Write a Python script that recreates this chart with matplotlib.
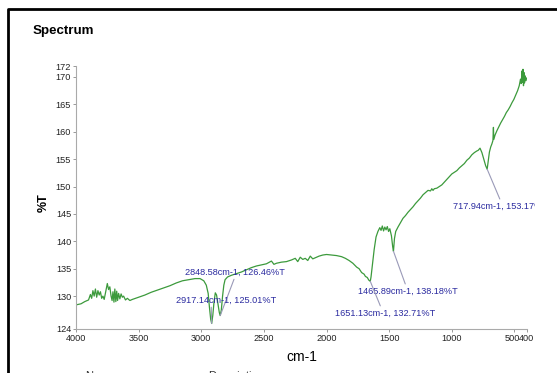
import matplotlib.pyplot as plt
import matplotlib.lines as mlines
from matplotlib.transforms import Bbox, TransformedBbox, ScaledTranslation
import numpy as np

# spectrum trace (wavenumber cm-1, %T)
wavenumber = [4000, 3960, 3930, 3900, 3885, 3875, 3865, 3855, 3845, 3835, 3825, 3815,
              3805, 3795, 3785, 3775, 3765, 3750, 3740, 3730, 3720, 3712, 3705, 3697,
              3690, 3682, 3675, 3668, 3660, 3650, 3640, 3630, 3620, 3605, 3590, 3570,
              3550, 3500, 3450, 3400, 3350, 3300, 3250, 3200, 3150, 3100, 3050, 3010,
              2980, 2960, 2945, 2935, 2925, 2917, 2908, 2898, 2888, 2878, 2866, 2856,
              2849, 2840, 2830, 2820, 2810, 2790, 2760, 2720, 2680, 2640, 2600, 2560,
              2520, 2480, 2440, 2420, 2400, 2360, 2320, 2280, 2250, 2230, 2210, 2190,
              2170, 2150, 2130, 2110, 2090, 2060, 2030, 2000, 1960, 1920, 1880, 1850,
              1820, 1790, 1760, 1740, 1720, 1700, 1690, 1675, 1662, 1651, 1645, 1635,
              1620, 1605, 1590, 1575, 1565, 1555, 1545, 1535, 1525, 1515, 1505, 1495,
              1482, 1472, 1466, 1458, 1448, 1430, 1410, 1390, 1370, 1350, 1330, 1310,
              1290, 1270, 1250, 1230, 1210, 1190, 1170, 1160, 1150, 1140, 1120, 1100,
              1080, 1060, 1040, 1020, 1000, 980, 960, 940, 920, 900, 880, 860,
              840, 820, 800, 790, 775, 760, 745, 730, 718, 710, 700, 690,
              680, 672, 668, 665, 655, 640, 625, 610, 595, 580, 565, 550,
              535, 520, 505, 490, 475, 462, 452, 446, 440, 436, 432, 428,
              424, 420, 415, 410, 405]
transmittance = [128.4, 128.6, 129.0, 129.3, 130.3, 129.6, 131.0, 130.0, 131.3, 129.8, 131.0, 130.2,
                 130.8, 129.6, 130.0, 129.4, 130.6, 132.3, 131.2, 131.7, 130.0, 129.2, 130.8, 128.9,
                 131.3, 129.0, 130.9, 129.2, 130.5, 129.5, 130.4, 129.8, 130.0, 129.3, 129.6, 129.2,
                 129.4, 129.8, 130.2, 130.7, 131.1, 131.5, 131.9, 132.4, 132.8, 133.0, 133.2, 133.2,
                 132.8, 132.0, 130.5, 128.0, 125.8, 125.01, 126.5, 129.0, 130.6, 130.2, 128.5, 127.0,
                 126.46, 127.5, 130.0, 132.0, 133.0, 133.5, 133.8, 134.1, 134.4, 134.8, 135.2, 135.5,
                 135.7, 135.9, 136.4, 135.8, 136.0, 136.2, 136.3, 136.6, 136.9, 136.3, 137.1, 136.7,
                 136.9, 136.5, 137.3, 136.8, 137.0, 137.3, 137.5, 137.6, 137.5, 137.4, 137.2, 136.9,
                 136.5, 136.0, 135.3, 135.0, 134.3, 134.0, 133.6, 133.4, 132.9, 132.71, 133.5, 135.5,
                 138.5, 140.8, 141.8, 142.5, 142.0, 142.8, 141.9, 142.6, 142.1, 142.7, 141.8, 142.3,
                 141.0, 139.0, 138.18, 140.5, 141.8, 142.6, 143.4, 144.2, 144.7, 145.3, 145.8, 146.3,
                 146.9, 147.4, 147.9, 148.5, 148.9, 149.3, 149.2, 149.6, 149.3, 149.6, 149.7, 150.0,
                 150.3, 150.8, 151.3, 151.8, 152.3, 152.6, 152.9, 153.4, 153.8, 154.2, 154.8, 155.2,
                 155.8, 156.2, 156.5, 156.6, 157.0, 156.2, 155.0, 153.8, 153.17, 154.5, 156.3, 157.2,
                 157.8, 158.4, 160.8, 158.6, 159.4, 160.2, 160.9, 161.6, 162.2, 162.8, 163.5, 164.0,
                 164.6, 165.3, 165.9, 166.7, 167.5, 168.4, 169.6, 168.8, 171.1, 169.0, 171.4, 168.4,
                 170.8, 168.9, 170.2, 169.3, 169.8]

# peak labels
peak_x = [2848.58, 2917.14, 1465.89, 1651.13, 717.94]
peak_y = [126.46, 125.01, 138.18, 132.71, 153.17]
label_x = [3129, 3201, 1746, 1930, 987]
label_y = [134.4, 129.3, 130.9, 126.9, 146.4]
label_anchor = [(0.5, 0.0), (0.35, 0.0), (0.48, 1.0), (0.46, 1.0), (0.5, 1.0)]

xticks = [4000, 3500, 3000, 2500, 2000, 1500, 1000, 500, 400]
yticks = [124, 130, 135, 140, 145, 150, 155, 160, 165, 170, 172]

plt.rcParams['font.family'] = ['Liberation Sans', 'DejaVu Sans']

fig = plt.figure(figsize=(5.57, 3.73), dpi=100)
ax = fig.add_axes([76/557, 1-329/373, (527-76)/557, (329-66)/373])

ax.plot(wavenumber, transmittance, color='#3c9a3c', lw=0.9)
ax.set_xlim(4000, 400)
ax.set_ylim(124, 172)
ax.set_xticks(xticks)
ax.set_yticks(yticks)
ax.tick_params(labelsize=6.6, length=2.5, width=0.7, color='#999999', pad=1, labelcolor='#222222')
for s in ['top', 'right']:
    ax.spines[s].set_visible(False)
for s in ['left', 'bottom']:
    ax.spines[s].set_color('#aaaaaa')
    ax.spines[s].set_linewidth(0.8)

# the 500 and 400 labels sit side by side as "500400"
xlabels = ax.get_xticklabels()
xlabels[-2].set_transform(xlabels[-2].get_transform() + ScaledTranslation(-2.5/100, 0, fig.dpi_scale_trans))
xlabels[-1].set_transform(xlabels[-1].get_transform() + ScaledTranslation(-1/100, 0, fig.dpi_scale_trans))

ax.set_xlabel('cm-1', fontsize=10, labelpad=5)
ax.set_ylabel('%T', fontsize=9, fontweight='bold')
ax.yaxis.set_label_coords(-0.0576, 0.479)

clip = TransformedBbox(Bbox([[0, 0], [535/557, 1]]), fig.transFigure)
for px, py, tx, ty, rel in zip(peak_x, peak_y, label_x, label_y, label_anchor):
    t = ax.annotate(f'{px:.2f}cm-1, {py:.2f}%T', xy=(px, py), xytext=(tx, ty),
                    ha='left', va='center', fontsize=6.6, color='#2b2ba0',
                    arrowprops=dict(arrowstyle='-', color='#9a9ab8', lw=0.8,
                                    relpos=rel, shrinkA=0, shrinkB=0),
                    annotation_clip=False)
    t.set_clip_on(True)
    t.set_clip_box(clip)

fig.text(33/557, 1-31/373, 'Spectrum', fontsize=9.6, fontweight='bold',
         va='center', ha='left')
fig.text(85/557, -6/373, 'Name', fontsize=8, color='#333333', va='baseline')
fig.text(208/557, -6/373, 'Description', fontsize=8, color='#333333', va='baseline')

# frame around the report area
fig.add_artist(mlines.Line2D([8/557, 8/557, 1], [0, 1-9/373, 1-9/373],
                             transform=fig.transFigure, color='black', lw=2))

fig.savefig('out.png', dpi=100)
